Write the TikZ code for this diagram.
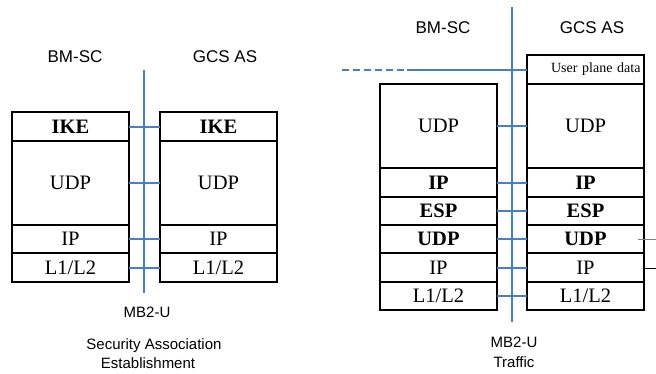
\documentclass[tikz,border=0pt]{standalone}
\usepackage{fontspec}
\setmainfont{Liberation Serif}
\setsansfont{Liberation Sans}
\usetikzlibrary{positioning}
\definecolor{ifblue}{RGB}{74,126,193}

\tikzset{
  layer/.style={draw, line width=1.5pt, outer sep=0pt, inner sep=0pt,
    minimum width=117pt, minimum height=#1, font=\fontsize{20.5}{23}\selectfont},
  layer/.default=28pt,
  boldlayer/.style={layer=#1, font=\fontsize{20.5}{23}\selectfont\bfseries},
  boldlayer/.default=28pt,
  iface/.style={ifblue, line width=2pt},
  entity/.style={font=\sffamily\fontsize{17}{20}\selectfont},
  caption/.style={font=\sffamily\fontsize{15}{18}\selectfont}
}

\begin{document}
\begin{tikzpicture}[x=1pt,y=-1pt]
        \useasboundingbox (0,0) rectangle (656,373);
        % security association establishment: BM-SC stack
        \node[boldlayer=29pt, anchor=north west] (sabmIKE) at (12,112) {IKE};
        \node[layer=84pt, below=0pt of sabmIKE] (sabmUDP) {UDP};
        \node[layer, below=0pt of sabmUDP] (sabmIP) {IP};
        \node[layer=29pt, below=0pt of sabmIP] (sabmL) {L1/L2};
        % security association establishment: GCS AS stack
        \node[boldlayer=29pt, anchor=north west] (sagcIKE) at (160,112) {IKE};
        \node[layer=84pt, below=0pt of sagcIKE] (sagcUDP) {UDP};
        \node[layer, below=0pt of sagcUDP] (sagcIP) {IP};
        \node[layer=29pt, below=0pt of sagcIP] (sagcL) {L1/L2};
        % MB2-U reference point
        \coordinate (saTop) at (144,70);
        \coordinate (saBot) at (144,293);
        \draw[iface] (saTop) -- (saBot);
        \draw[iface] (sabmIKE.east) -- (sagcIKE.west);
        \draw[iface] (sabmUDP.east) -- (sagcUDP.west);
        \draw[iface] (sabmIP.east) -- (sagcIP.west);
        \draw[iface] (sabmL.east) -- (sagcL.west);
        % labels
        \node[entity] (saBM) at (75,57) {BM-SC};
        \node[entity] (saGC) at (225,57) {GCS AS};
        \node[caption] (saMB) at (147,312) {MB2-U};
        \node[caption] (saCap1) at (154,346) {Security Association};
        \node[caption] (saCap2) at (148,363) {Establishment};

        % traffic: BM-SC stack
        \node[layer=84pt, anchor=north west] (trbmUDP) at (380,84) {UDP};
        \node[boldlayer=29pt, below=0pt of trbmUDP] (trbmIP) {IP};
        \node[boldlayer, below=0pt of trbmIP] (trbmESP) {ESP};
        \node[boldlayer, below=0pt of trbmESP] (trbmUDPb) {UDP};
        \node[layer=29pt, below=0pt of trbmUDPb] (trbmIPb) {IP};
        \node[layer, below=0pt of trbmIPb] (trbmL) {L1/L2};
        % traffic: GCS AS stack
        \node[layer=29pt, anchor=north west, font=\fontsize{14}{16}\selectfont,
              text width=110pt, align=right] (trgcUser) at (527,55) {User plane data};
        \node[layer=84pt, below=0pt of trgcUser] (trgcUDP) {UDP};
        \node[boldlayer=29pt, below=0pt of trgcUDP] (trgcIP) {IP};
        \node[boldlayer, below=0pt of trgcIP] (trgcESP) {ESP};
        \node[boldlayer, below=0pt of trgcESP] (trgcUDPb) {UDP};
        \node[layer=29pt, below=0pt of trgcUDPb] (trgcIPb) {IP};
        \node[layer, below=0pt of trgcIPb] (trgcL) {L1/L2};
        % MB2-U reference point
        \coordinate (trTop) at (512,7);
        \coordinate (trBot) at (512,322);
        \draw[iface] (trTop) -- (trBot);
        \draw[iface] (trbmUDP.east) -- (trgcUDP.west);
        \draw[iface] (trbmIP.east) -- (trgcIP.west);
        \draw[iface] (trbmESP.east) -- (trgcESP.west);
        \draw[iface] (trbmUDPb.east) -- (trgcUDPb.west);
        \draw[iface] (trbmIPb.east) -- (trgcIPb.west);
        \draw[iface] (trbmL.east) -- (trgcL.west);
        % user plane data path
        \coordinate (trDash) at (342,70);
        \coordinate (trSolid) at (407,70);
        \draw[iface, line width=1.8pt, dash pattern=on 7pt off 4pt] (trDash) -- (trSolid);
        \draw[iface, line width=1.8pt] (trSolid) -- (trSolid -| trgcUser.west);
        % stubs on the right edge
        \coordinate (trGrayEnd) at (656,239);
        \coordinate (trBlackEnd) at (656,268);
        \draw[gray, line width=1pt] ([xshift=-6pt]trgcUDPb.east) -- (trGrayEnd);
        \draw[black, line width=1pt] (trgcIPb.east |- trBlackEnd) -- (trBlackEnd);
        % labels
        \node[entity] (trBM) at (443,28) {BM-SC};
        \node[entity] (trGC) at (592,28) {GCS AS};
        \node[caption] (trMB) at (514,342) {MB2-U};
        \node[caption] (trCap) at (514,362) {Traffic};
    \end{tikzpicture}
\end{document}
